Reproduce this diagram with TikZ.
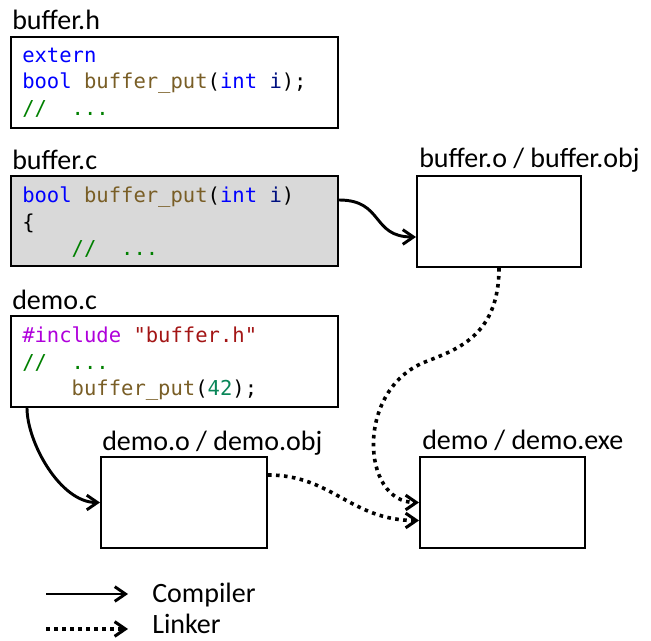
\documentclass[tikz,border=0pt]{standalone}
\usepackage{fontspec}
\setmainfont{Carlito}
\setmonofont{DejaVu Sans Mono}
\usetikzlibrary{arrows.meta,calc}

% syntax colours
\definecolor{kw}{HTML}{0000FF}
\definecolor{fn}{HTML}{795E26}
\definecolor{var}{HTML}{001080}
\definecolor{cm}{HTML}{008000}
\definecolor{pp}{HTML}{AF00DB}
\definecolor{str}{HTML}{A31515}
\definecolor{num}{HTML}{098658}
\definecolor{srcfill}{HTML}{D9D9D9}

\tikzset{
  filebox/.style={draw=black, line width=1.5pt, anchor=north west, inner sep=0pt},
  fname/.style={anchor=base west, inner sep=0pt, font=\fontsize{21}{24}\selectfont},
  codeline/.style={anchor=base west, inner sep=0pt, font=\ttfamily\fontsize{15.4}{18}\selectfont},
  comp/.style={line width=2.2pt, -{Straight Barb[length=8pt,width=11pt]}},
  link/.style={line width=2.7pt, dash pattern=on 2.7pt off 3.3pt, -{Straight Barb[length=8pt,width=11pt,line width=2.3pt]}},
}

\begin{document}
\begin{tikzpicture}[x=0.75pt, y=-0.75pt]
\useasboundingbox (0,0) rectangle (651,641);

% ---- buffer.h ----
\node[fname] (lh) at (12,30) {buffer.h};
\node[filebox, minimum width=245.25pt, minimum height=68.25pt] (hbox) at (10,36) {};
\node[codeline] (h1) at (22,62.5) {\textcolor{kw}{extern}};
\node[codeline] (h2) at (22,89) {\textcolor{kw}{bool} \textcolor{fn}{buffer\_put}(\textcolor{kw}{int} \textcolor{var}{i});};
\node[codeline] (h3) at (22,116) {\textcolor{cm}{//\ \ ...}};

% ---- buffer.c ----
\node[fname] (lc) at (12,170) {buffer.c};
\node[filebox, fill=srcfill, minimum width=245.25pt, minimum height=67.5pt] (cbox) at (10,175) {};
\node[codeline] (c1) at (22,203) {\textcolor{kw}{bool} \textcolor{fn}{buffer\_put}(\textcolor{kw}{int} \textcolor{var}{i})};
\node[codeline] (c2) at (22,229.5) {\{};
\node[codeline] (c3) at (22,256) {\ \ \ \ \textcolor{cm}{//\ \ ...}};

% ---- demo.c ----
\node[fname] (ld) at (12,310) {demo.c};
\node[filebox, minimum width=245.25pt, minimum height=68.25pt] (dbox) at (10,315) {};
\node[codeline] (d1) at (22,343) {\textcolor{pp}{\#include} \textcolor{str}{"buffer.h"}};
\node[codeline] (d2) at (22,370) {\textcolor{cm}{//\ \ ...}};
\node[codeline] (d3) at (22,395.5) {\ \ \ \ \textcolor{fn}{buffer\_put}(\textcolor{num}{42});};

% ---- object files and executable ----
\node[fname] (lbo) at (419,168) {buffer.o / buffer.obj};
\node[filebox, minimum width=123pt, minimum height=68.25pt] (bo) at (416,175) {};

\node[fname] (ldo) at (102,451) {demo.o / demo.obj};
\node[filebox, minimum width=124.5pt, minimum height=68.25pt] (do) at (100,456) {};

\node[fname] (lde) at (422,450) {demo / demo.exe};
\node[filebox, minimum width=123.75pt, minimum height=68.25pt] (de) at (419,456) {};

% ---- compiler steps ----
\draw[comp] ($(cbox.north east)+(0,25)$) .. controls +(45,0) and +(-45,0) .. ($(bo.north west)+(0,62)$);
\draw[comp] ($(dbox.south west)+(17,0)$) .. controls +(0,34) and +(-40,0) .. (do.west);

% ---- linker steps ----
\draw[link] (bo.south) .. controls +(0,69) and +(30,-12) .. (425,362)
                       .. controls +(-70,28) and +(-58,0) .. (de.west);
\draw[link] ($(do.north east)+(0,19)$) .. controls +(64,0) and +(-68,0) .. ($(de.west)+(0,18)$);

% ---- legend ----
\coordinate (ca) at (46,594);
\coordinate (cb) at (128,594);
\coordinate (la) at (46,629);
\coordinate (lb) at (128,629);
\draw[comp] (ca) -- (cb);
\draw[link] (la) -- (lb);
\node[fname] (tcomp) at (152,603) {Compiler};
\node[fname] (tlink) at (152,634) {Linker};
\end{tikzpicture}
\end{document}
